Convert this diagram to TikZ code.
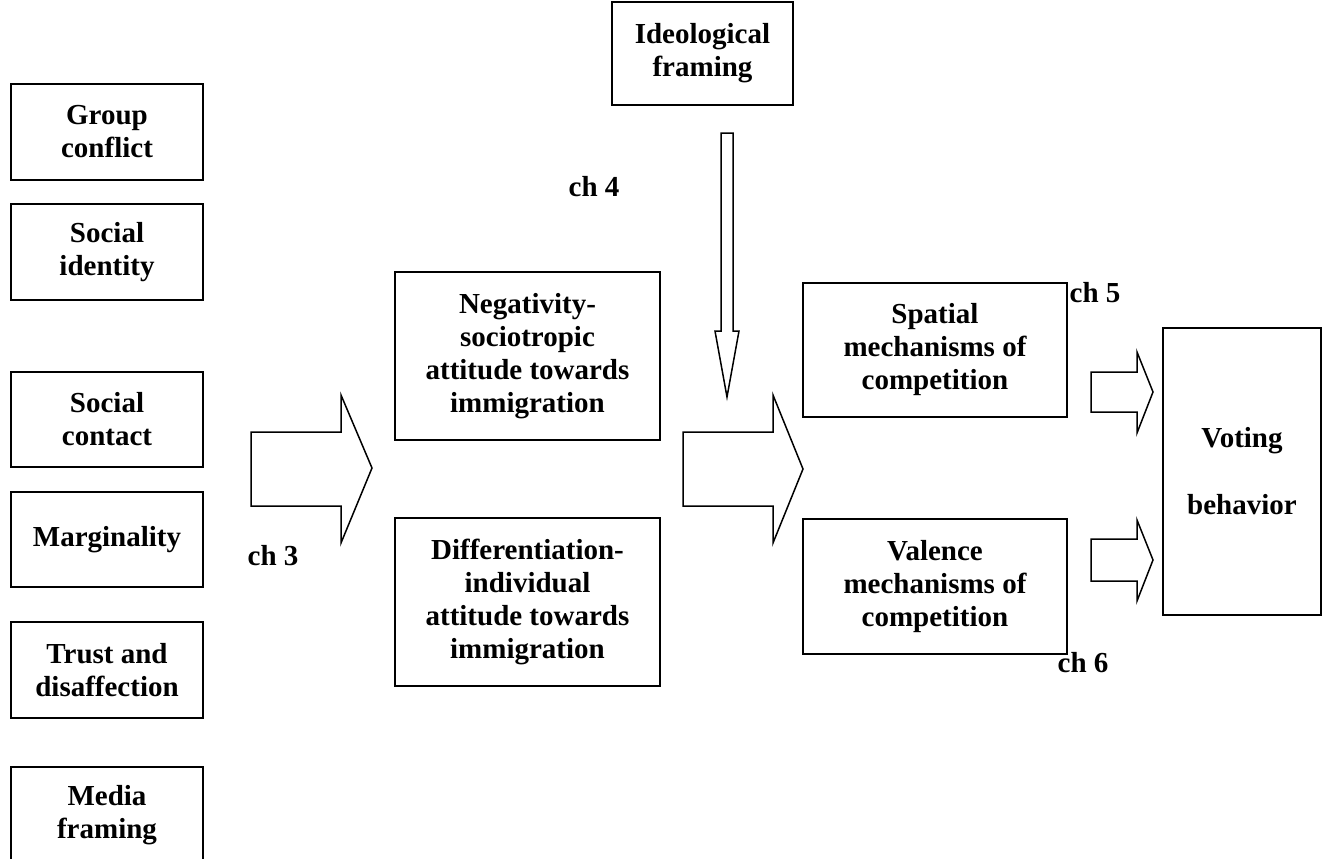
\documentclass[tikz,border=0pt]{standalone}
\usepackage{fontspec}
\setmainfont{Liberation Serif}
\begin{document}
\begin{tikzpicture}[x=1pt,y=-1pt,
  box/.style={draw,line width=1.5pt,align=center,inner sep=0pt,font=\bfseries\fontsize{29}{33}\selectfont},
  lab/.style={font=\bfseries\fontsize{29}{33}\selectfont,inner sep=0pt},
  blk/.style={draw,line width=1.5pt,line join=miter}]
\clip (0,0) rectangle (1323,859);
% left column
\node[box,minimum width=192pt,minimum height=96pt] (g1) at (107,132) {Group\\conflict};
\node[box,minimum width=192pt,minimum height=96pt] (g2) at (107,252) {Social\\identity};
\node[box,minimum width=192pt,minimum height=95pt] (g3) at (107,419.5) {Social\\contact};
\node[box,minimum width=192pt,minimum height=95pt] (g4) at (107,539.5) {Marginality};
\node[box,minimum width=192pt,minimum height=96pt] (g5) at (107,670) {Trust and\\disaffection};
\node[box,minimum width=192pt,minimum height=96pt] (g6) at (107,815) {Media\\framing};
% middle
\node[box,minimum width=265pt,minimum height=168pt] (neg) at (527.5,356) {Negativity-\\sociotropic\\attitude towards\\immigration};
\node[box,minimum width=265pt,minimum height=168pt] (dif) at (527.5,602) {Differentiation-\\individual\\attitude towards\\immigration};
\node[box,minimum width=181pt,minimum height=103pt] (ideo) at (702.5,53.5) {Ideological\\framing};
\node[box,minimum width=264pt,minimum height=134pt] (spat) at (935,350) {Spatial\\mechanisms of\\competition};
\node[box,minimum width=264pt,minimum height=135pt] (val) at (935,586.5) {Valence\\mechanisms of\\competition};
\node[box,minimum width=158pt,minimum height=287pt] (vote) at (1242,471.5) {Voting\\[34pt]behavior};
% labels
\node[lab] (c3) at (273,556) {ch 3};
\node[lab] (c4) at (594,187) {ch 4};
\node[lab] (c5) at (1095,293) {ch 5};
\node[lab] (c6) at (1083,663) {ch 6};
% block arrows
\draw[blk] (251,432) -- (341,432) -- (341,395) -- (372,468) -- (341,543) -- (341,506) -- (251,506) -- cycle;
\draw[blk] (683,432) -- (773,432) -- (773,395) -- (803,469) -- (773,543) -- (773,506) -- (683,506) -- cycle;
\draw[blk] (721,133) -- (733,133) -- (733,331) -- (739,331) -- (727,397) -- (715,331) -- (721,331) -- cycle;
\draw[blk] (1091,372) -- (1137,372) -- (1137,352) -- (1153,392) -- (1137,433) -- (1137,412) -- (1091,412) -- cycle;
\draw[blk] (1091,539) -- (1137,539) -- (1137,520) -- (1153,560) -- (1137,601) -- (1137,581) -- (1091,581) -- cycle;
\end{tikzpicture}
\end{document}
